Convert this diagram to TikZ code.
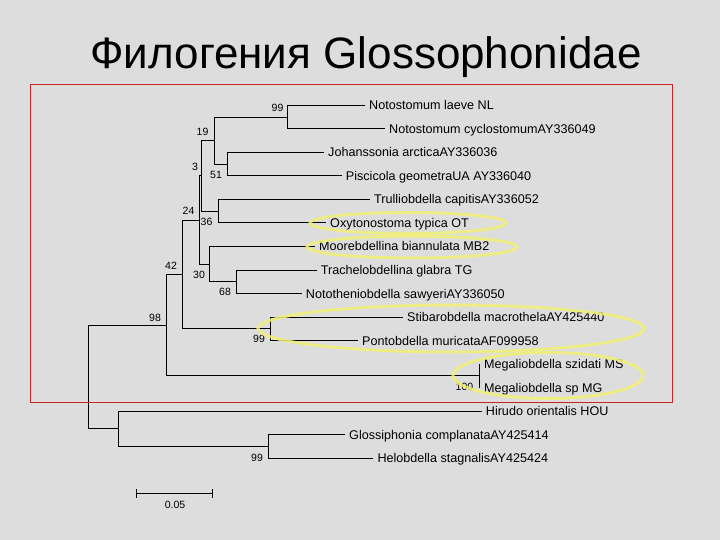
\documentclass[tikz,border=0pt]{standalone}
\usepackage{fontspec}
\setmainfont{Liberation Sans}
\definecolor{bg}{RGB}{221,221,221}
\definecolor{framered}{RGB}{200,36,36}
\definecolor{hl}{RGB}{240,240,118}
\tikzset{
  branch/.style={line width=1bp, black},
  leaf/.style={anchor=west, inner xsep=4bp, inner ysep=0pt, text height=9bp, text depth=0pt,
    font=\fontsize{12.6bp}{14bp}\selectfont},
  boot/.style={inner sep=0pt, font=\fontsize{10.5bp}{12bp}\selectfont},
  hilite/.style={draw=hl, line width=3bp, opacity=0.85},
  titletext/.style={anchor=base, inner sep=0pt, font=\fontsize{44bp}{50bp}\selectfont},
}
\begin{document}
\begin{tikzpicture}[x=1bp,y=-1bp]
\fill[bg] (0,0) rectangle (720,540);
\useasboundingbox (0,0) rectangle (720,540);

\node[titletext] (title) at (366,69) {Филогения Glossophonidae};

% leaves
\node[leaf] (L0)  at (365,105.5)   {Notostomum laeve NL};
\node[leaf] (L1)  at (385,129)     {Notostomum cyclostomumAY336049};
\node[leaf] (L2)  at (324,152.5)   {Johanssonia arcticaAY336036};
\node[leaf] (L3)  at (341.7,176)   {Piscicola geometraUA AY336040};
\node[leaf] (L4)  at (370,199.5)   {Trulliobdella capitisAY336052};
\node[leaf] (L5)  at (326,223)     {Oxytonostoma typica OT};
\node[leaf] (L6)  at (315,246.5)   {Moorebdellina biannulata MB2};
\node[leaf] (L7)  at (316.7,270)   {Trachelobdellina glabra TG};
\node[leaf] (L8)  at (301.7,293.5) {Nototheniobdella sawyeriAY336050};
\node[leaf] (L9)  at (403,317)     {Stibarobdella macrothelaAY425440};
\node[leaf] (L10) at (358,340.5)   {Pontobdella muricataAF099958};
\node[leaf] (L11) at (480,364)     {Megaliobdella szidati MS};
\node[leaf] (L12) at (480,387.5)   {Megaliobdella sp MG};
\node[leaf] (L13) at (481.7,411)   {Hirudo orientalis HOU};
\node[leaf] (L14) at (345,434.5)   {Glossiphonia complanataAY425414};
\node[leaf] (L15) at (373.3,458)   {Helobdella stagnalisAY425424};

% internal nodes
\coordinate (n99a) at (287.7,117.25);
\coordinate (n51)  at (227.7,164.25);
\coordinate (n19)  at (214,140.75);
\coordinate (n36)  at (218.3,211.25);
\coordinate (n3)   at (201.7,176);
\coordinate (n68)  at (236.7,281.75);
\coordinate (n30)  at (209.3,264.1);
\coordinate (n24)  at (199,220.05);
\coordinate (n99b) at (270.7,328.75);
\coordinate (n42)  at (182.3,274.4);
\coordinate (n100) at (479.3,375.75);
\coordinate (n98)  at (166.7,325.1);
\coordinate (n99c) at (268.3,446.25);
\coordinate (nHG)  at (118.3,428.6);
\coordinate (root) at (88.3,376.85);

% branches
\draw[branch] (n99a) |- (L0.west);
\draw[branch] (n99a) |- (L1.west);
\draw[branch] (n51) |- (L2.west);
\draw[branch] (n51) |- (L3.west);
\draw[branch] (n19) |- (n99a);
\draw[branch] (n19) |- (n51);
\draw[branch] (n36) |- (L4.west);
\draw[branch] (n36) |- (L5.west);
\draw[branch] (n3) |- (n19);
\draw[branch] (n3) |- (n36);
\draw[branch] (n68) |- (L7.west);
\draw[branch] (n68) |- (L8.west);
\draw[branch] (n30) |- (L6.west);
\draw[branch] (n30) |- (n68);
\draw[branch] (n24) |- (n3);
\draw[branch] (n24) |- (n30);
\draw[branch] (n99b) |- (L9.west);
\draw[branch] (n99b) |- (L10.west);
\draw[branch] (n42) |- (n24);
\draw[branch] (n42) |- (n99b);
\draw[branch] (n100) |- (L11.west);
\draw[branch] (n100) |- (L12.west);
\draw[branch] (n98) |- (n42);
\draw[branch] (n98) |- (n100);
\draw[branch] (n99c) |- (L14.west);
\draw[branch] (n99c) |- (L15.west);
\draw[branch] (nHG) |- (L13.west);
\draw[branch] (nHG) |- (n99c);
\draw[branch] (root) |- (n98);
\draw[branch] (root) |- (nHG);

% bootstrap values
\node[boot] (b99a) at (277.5,108)   {99};
\node[boot] (b19)  at (202.5,132)   {19};
\node[boot] (b3)   at (195,166.5)   {3};
\node[boot] (b51)  at (216,175)     {51};
\node[boot] (b24)  at (188.5,211)   {24};
\node[boot] (b36)  at (206.5,221.7) {36};
\node[boot] (b42)  at (171,266)     {42};
\node[boot] (b30)  at (199,275)     {30};
\node[boot] (b68)  at (225,291.7)   {68};
\node[boot] (b98)  at (155,317.7)   {98};
\node[boot] (b99b) at (259,339)     {99};
\node[boot] (b100) at (464.5,386.7) {100};
\node[boot] (b99c) at (257,457.7)   {99};

% scale bar
\coordinate (s0) at (136.7,493.3);
\coordinate (s1) at (212.7,493.3);
\draw[branch] (s0) -- (s1);
\draw[branch] ([yshift=-4.5bp]s0) -- ([yshift=4.5bp]s0);
\draw[branch] ([yshift=-4.5bp]s1) -- ([yshift=4.5bp]s1);
\node[boot] (scale) at (175,505) {0.05};

% red frame
\draw[framered, line width=1bp] (30,84.3) rectangle (672.3,402.7);

% yellow highlights
\draw[hilite] (408,223) ellipse [x radius=98bp, y radius=10.5bp];
\draw[hilite] (412,247) ellipse [x radius=105bp, y radius=11bp];
\draw[hilite] (451,328.5) ellipse [x radius=193bp, y radius=23.5bp];
\draw[hilite] (548,375.5) ellipse [x radius=95bp, y radius=23bp];
\end{tikzpicture}
\end{document}
